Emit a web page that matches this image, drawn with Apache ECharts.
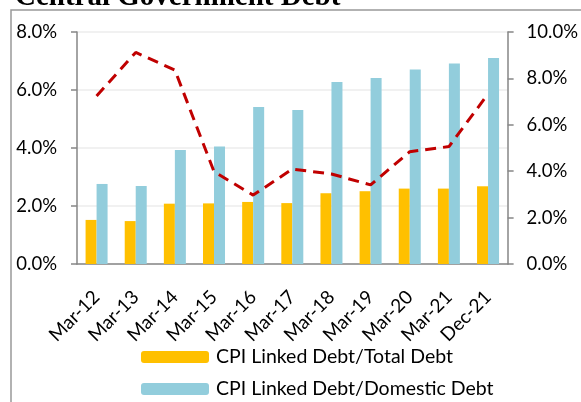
<!DOCTYPE html>
<html>
<head>
<meta charset="utf-8">
<script src="https://cdn.jsdelivr.net/npm/echarts@6/dist/echarts.min.js"></script>
<style>
  html, body { margin: 0; padding: 0; background: #fff; }
  #box { width: 581px; height: 402px; }
</style>
</head>
<body>
<div id="box"></div>
<script>
// data
var categories = ['Mar-12', 'Mar-13', 'Mar-14', 'Mar-15', 'Mar-16', 'Mar-17', 'Mar-18', 'Mar-19', 'Mar-20', 'Mar-21', 'Dec-21'];
var totalDebtShare = [1.52, 1.48, 2.08, 2.09, 2.14, 2.10, 2.44, 2.51, 2.60, 2.60, 2.68];
var domesticDebtShare = [2.76, 2.69, 3.93, 4.05, 5.41, 5.31, 6.28, 6.41, 6.71, 6.91, 7.10];
var rightLine = [7.24, 9.12, 8.36, 3.98, 2.97, 4.09, 3.88, 3.41, 4.84, 5.06, 7.33];

var font = 'Lato';
var axisGray = '#868686';

var myChart = echarts.init(document.getElementById('box'));

var option = {
  animation: false,
  title: {
    text: 'Central Government Debt',
    left: 10,
    top: -22,
    textStyle: { fontFamily: 'Liberation Serif', fontSize: 29, fontWeight: 'bold', color: '#000' }
  },
  graphic: [{
    type: 'polyline',
    shape: { points: [[11, 402], [11, 10], [581, 10]] },
    style: { stroke: '#999', lineWidth: 1.5, fill: null }
  }],
  legend: {
    orient: 'vertical',
    left: 141,
    top: 347,
    height: 80,
    padding: 0,
    itemWidth: 68,
    itemHeight: 12,
    itemGap: 12,
    data: ['CPI Linked Debt/Total Debt', 'CPI Linked Debt/Domestic Debt'],
    textStyle: { fontFamily: font, fontSize: 19.5, color: '#000', padding: [0, 0, 0, 2] }
  },
  grid: { left: 77, right: 73, top: 32, bottom: 138 },
  xAxis: {
    type: 'category',
    data: categories,
    axisLine: { lineStyle: { color: axisGray, width: 1.5 } },
    axisTick: { length: 5, lineStyle: { color: axisGray, width: 1.5 } },
    axisLabel: { rotate: 45, margin: 30, fontFamily: font, fontSize: 19, color: '#000' }
  },
  yAxis: [{
    type: 'value',
    min: 0, max: 8, interval: 2,
    axisLine: { show: true, lineStyle: { color: axisGray, width: 1.5 } },
    axisTick: { show: true, length: 6, lineStyle: { color: axisGray, width: 1.5 } },
    axisLabel: { margin: 20, fontFamily: font, fontSize: 18.5, color: '#000',
      formatter: function (v) { return v.toFixed(1) + '%'; } },
    splitLine: { lineStyle: { color: '#ededed', width: 1.5 } }
  }, {
    type: 'value',
    min: 0, max: 10, interval: 2,
    axisLine: { show: true, lineStyle: { color: axisGray, width: 1.5 } },
    axisTick: { show: true, length: 6, lineStyle: { color: axisGray, width: 1.5 } },
    axisLabel: { margin: 19, fontFamily: font, fontSize: 18.5, color: '#000',
      formatter: function (v) { return v.toFixed(1) + '%'; } },
    splitLine: { show: false }
  }],
  series: [{
    name: 'CPI Linked Debt/Total Debt',
    type: 'bar',
    data: totalDebtShare,
    barWidth: 11,
    barGap: '0%',
    itemStyle: { color: '#FFC000' }
  }, {
    name: 'CPI Linked Debt/Domestic Debt',
    type: 'bar',
    data: domesticDebtShare,
    barWidth: 11,
    itemStyle: { color: '#92CDDC' }
  }, {
    name: 'line',
    type: 'line',
    yAxisIndex: 1,
    data: rightLine,
    symbol: 'none',
    lineStyle: { color: '#C00000', width: 3, type: [11, 7] }
  }]
};

myChart.setOption(option);
</script>
</body>
</html>
